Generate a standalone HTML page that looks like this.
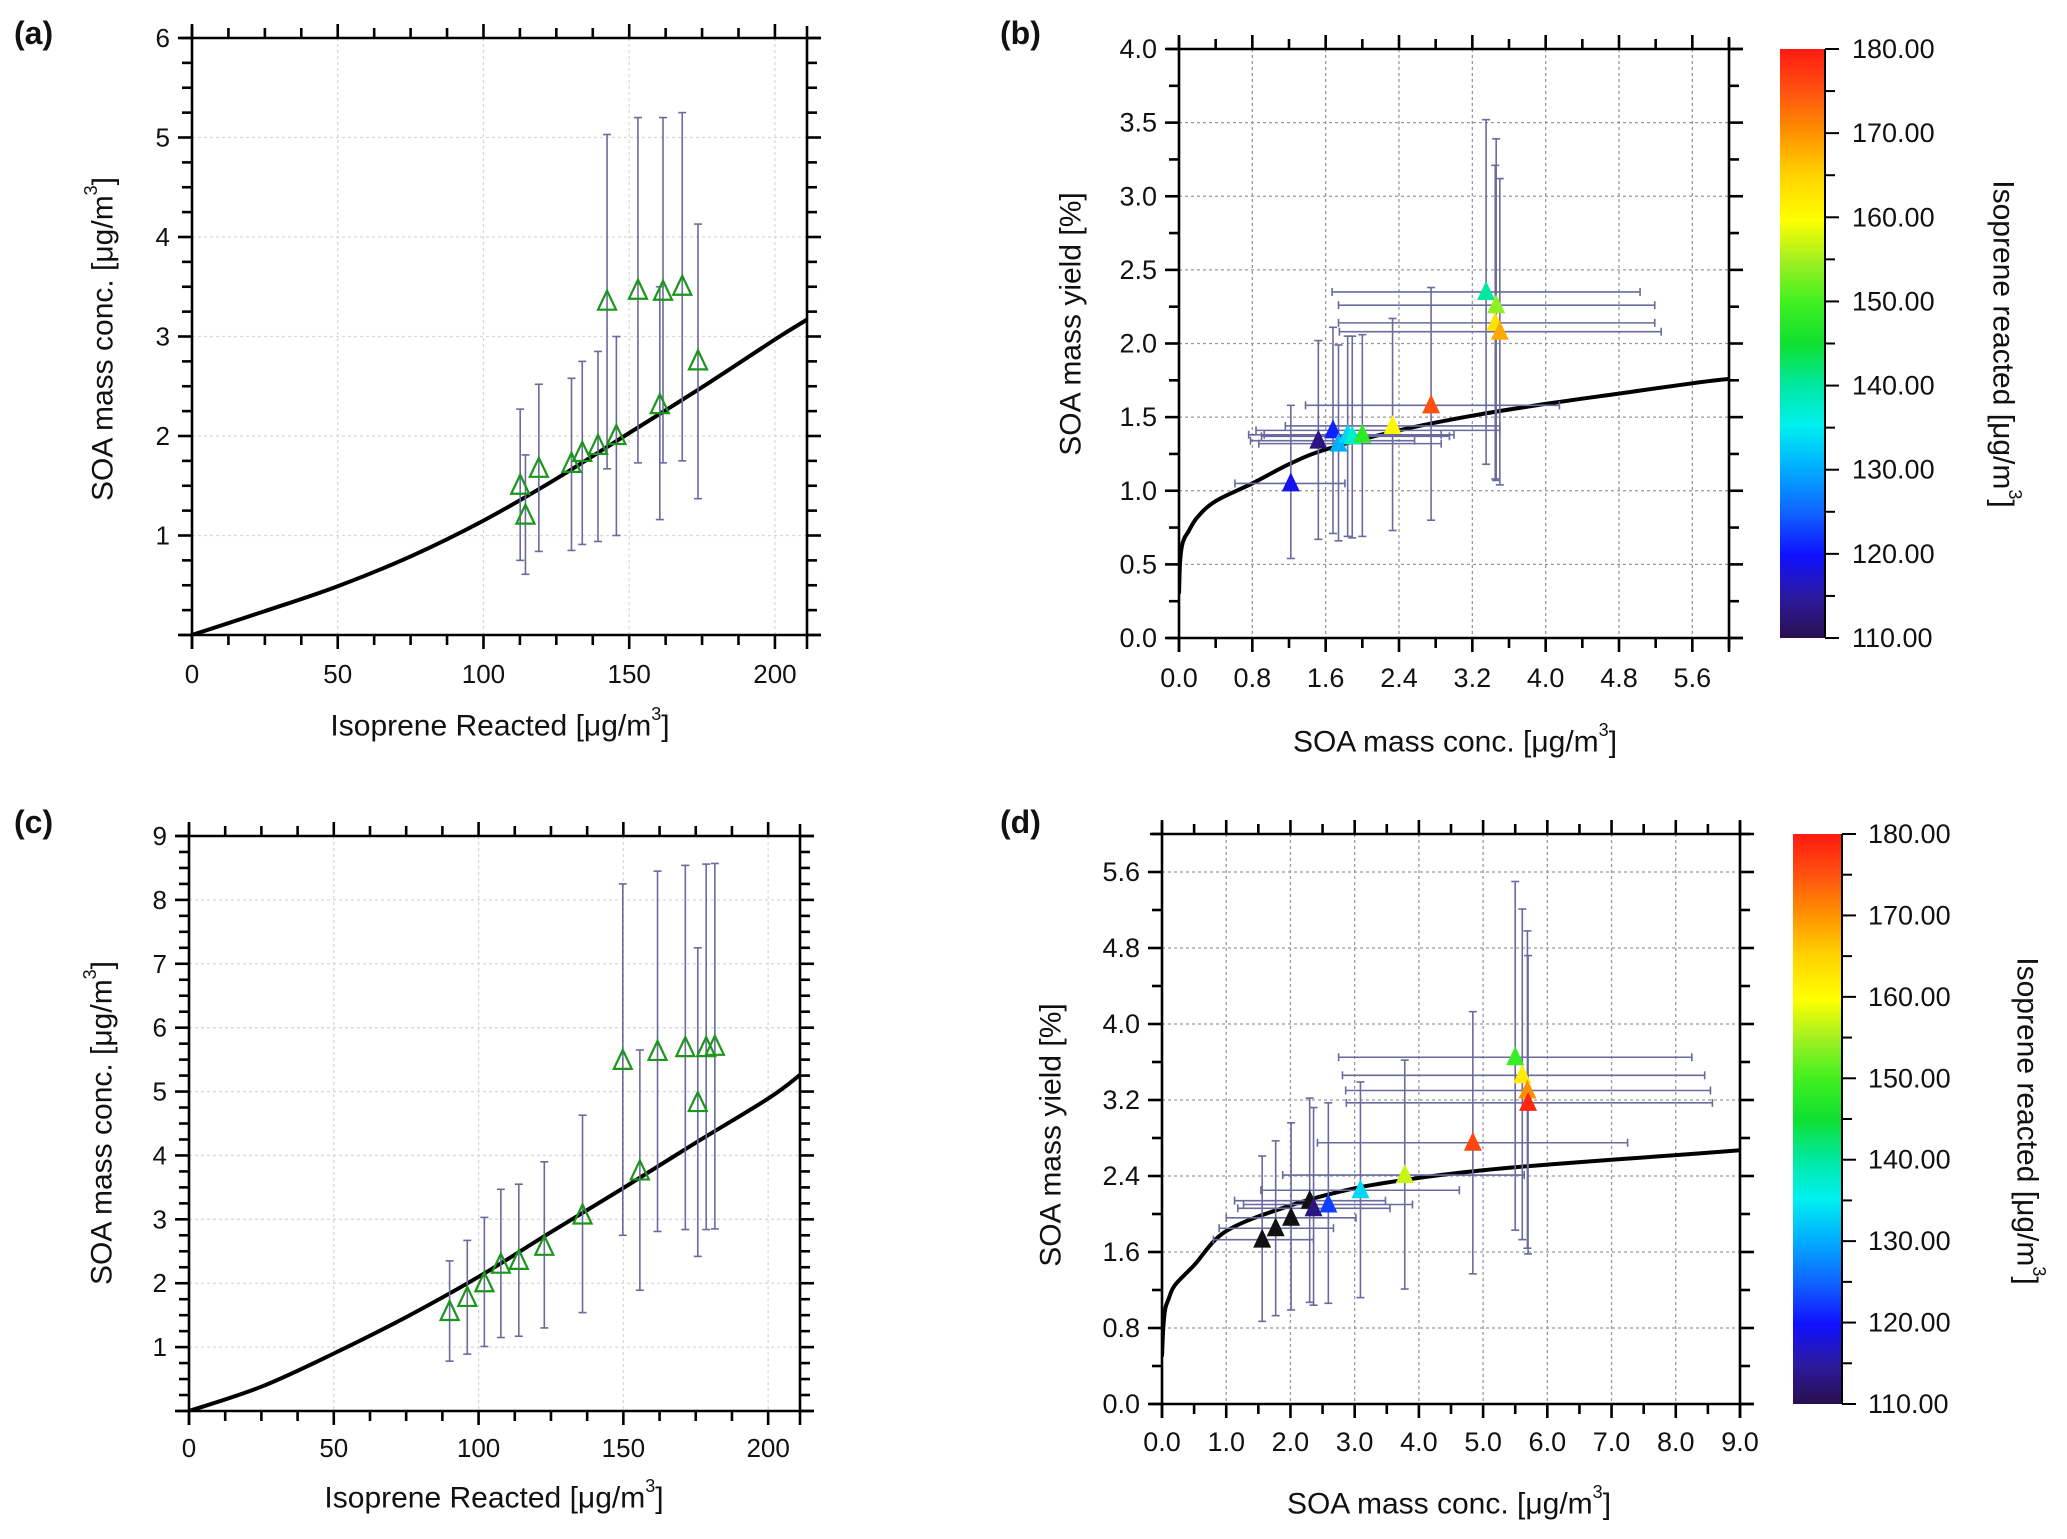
<!DOCTYPE html>
<html><head><meta charset="utf-8"><style>
html,body{margin:0;padding:0;background:#fff;}
svg{display:block;font-family:"Liberation Sans",Arial,sans-serif;}
</style></head><body>
<svg id="fig" width="2067" height="1539" viewBox="0 0 2067 1539" xmlns="http://www.w3.org/2000/svg">
<defs>
<linearGradient id="jet" x1="0" y1="1" x2="0" y2="0">
<stop offset="0" stop-color="#2a1050"/><stop offset="0.07" stop-color="#2b1aa0"/><stop offset="0.14" stop-color="#1010ff"/>
<stop offset="0.21" stop-color="#1060ff"/><stop offset="0.29" stop-color="#00b0ff"/><stop offset="0.36" stop-color="#00f0f0"/>
<stop offset="0.43" stop-color="#00e8a0"/><stop offset="0.5" stop-color="#10e030"/><stop offset="0.57" stop-color="#40f020"/>
<stop offset="0.64" stop-color="#a0f020"/><stop offset="0.71" stop-color="#ffff00"/><stop offset="0.79" stop-color="#ffd000"/>
<stop offset="0.86" stop-color="#ff9000"/><stop offset="0.93" stop-color="#ff5010"/><stop offset="1" stop-color="#ff1a10"/>
</linearGradient>
</defs>
</svg>
<script>
// ---- Panel (a) data ----
const aX=[112.6,114.4,119,130.2,133.9,139.3,145.6,142.4,153,161.6,160.5,168.2,173.6];
const aY=[1.50,1.20,1.67,1.72,1.83,1.90,2.00,3.35,3.46,3.45,2.31,3.50,2.75];
const aYhi=[2.27,1.81,2.52,2.58,2.75,2.85,3.00,5.03,5.20,5.20,3.50,5.25,4.13];
const aYlo=[0.75,0.61,0.84,0.85,0.91,0.94,1.00,1.67,1.73,1.73,1.16,1.75,1.37];
const aCurveX=[0,25,50,75,100,125,150,175,200,211];
const aCurveY=[0,0.24,0.49,0.79,1.15,1.57,2.03,2.49,2.97,3.17];
const aXTicks=[0,50,100,150,200];
const aYTicks=[1,2,3,4,5,6];
// ---- Panel (b) data ----
const bX=[1.22,1.52,1.68,1.74,1.84,1.89,2.00,2.33,2.75,3.35,3.46,3.45,3.50];
const bY=[1.05,1.34,1.41,1.32,1.38,1.37,1.38,1.44,1.58,2.35,2.26,2.14,2.08];
const bC=[119,113,121,130,133,137,148,161,175,140,154,163,168];
const bXlo=[0.61,0.78,0.84,0.87,0.93,0.90,0.76,1.16,1.38,1.67,1.74,1.74,1.75];
const bXhi=[1.81,2.57,3.50,2.86,3.00,2.95,2.86,3.50,4.15,5.03,5.19,5.19,5.26];
const bYlo=[0.54,0.67,0.71,0.66,0.69,0.68,0.69,0.73,0.80,1.18,1.07,1.08,1.04];
const bYhi=[1.58,2.02,2.11,1.99,2.05,2.05,2.06,2.17,2.38,3.52,3.39,3.21,3.12];
const bCurveX=[0,0.01,0.03,0.06,0.1,0.2,0.4,0.8,1.2,1.6,2.4,3.2,4.0,4.8,5.6,6.0];
const bCurveY=[0.3,0.5,0.62,0.68,0.72,0.82,0.93,1.05,1.18,1.28,1.41,1.51,1.59,1.66,1.73,1.76];
const bXTicks=[0,0.8,1.6,2.4,3.2,4.0,4.8,5.6];
const bYTicks=[0,0.5,1,1.5,2,2.5,3,3.5,4];
// ---- Panel (c) data ----
const cX=[90,96.1,102,107.7,113.9,122.7,135.9,149.8,155.7,161.8,171.4,175.7,178.6,181.6];
const cY=[1.55,1.77,2.00,2.29,2.35,2.57,3.06,5.48,3.75,5.62,5.68,4.82,5.68,5.70];
const cYhi=[2.35,2.67,3.03,3.47,3.55,3.90,4.63,8.25,5.65,8.45,8.54,7.25,8.56,8.57];
const cYlo=[0.78,0.89,1.01,1.15,1.17,1.30,1.54,2.75,1.89,2.81,2.84,2.42,2.84,2.85];
const cCurveX=[0,25,50,75,100,125,150,175,200,211];
const cCurveY=[0,0.38,0.90,1.47,2.10,2.80,3.49,4.20,4.89,5.26];
const cXTicks=[0,50,100,150,200];
const cYTicks=[1,2,3,4,5,6,7,8,9];
// ---- Panel (d) data ----
const dX=[1.56,1.77,2.01,2.30,2.36,2.59,3.09,3.78,4.84,5.50,5.61,5.69,5.70];
const dY=[1.73,1.85,1.96,2.14,2.06,2.10,2.25,2.41,2.75,3.65,3.46,3.30,3.17];
const dC=[100,100,100,100,113,123,133,157,176,149,162,170,179];
const dXlo=[0.80,0.89,1.00,1.13,1.18,1.27,1.54,1.88,2.42,2.75,2.81,2.86,2.87];
const dXhi=[2.36,2.67,3.02,3.48,3.55,3.90,4.63,5.64,7.25,8.25,8.45,8.54,8.57];
const dYlo=[0.87,0.93,0.99,1.07,1.04,1.06,1.12,1.21,1.37,1.83,1.73,1.64,1.58];
const dYhi=[2.61,2.77,2.96,3.22,3.12,3.17,3.39,3.62,4.13,5.50,5.21,4.98,4.72];
const dCurveX=[0,0.02,0.05,0.1,0.2,0.5,1,2,3,4,5,6,7,8,9];
const dCurveY=[0.5,0.8,1.0,1.1,1.25,1.46,1.82,2.09,2.27,2.38,2.46,2.52,2.57,2.62,2.67];
const dXTicks=[0,1,2,3,4,5,6,7,8,9];
const dYTicks=[0,0.8,1.6,2.4,3.2,4.0,4.8,5.6];
// ---- colour bar ----
const cbTicks=[110,120,130,140,150,160,170,180];

const NS="http://www.w3.org/2000/svg";
const svg=document.getElementById('fig');
function mk(tag,attrs,parent){const e=document.createElementNS(NS,tag);for(const k in attrs)e.setAttribute(k,attrs[k]);(parent||svg).appendChild(e);return e;}

const jetStops=[[110,[42,16,80]],[115,[43,26,160]],[120,[16,16,255]],[125,[16,96,255]],[130,[0,176,255]],[135,[0,240,240]],[140,[0,232,160]],[145,[16,224,48]],[150,[64,240,32]],[155,[160,240,32]],[160,[255,255,0]],[165,[255,208,0]],[170,[255,144,0]],[175,[255,80,16]],[180,[255,26,16]]];
function jet(v){
  if(v<110) return '#111111';
  for(let i=1;i<jetStops.length;i++){
    if(v<=jetStops[i][0]){const a=jetStops[i-1],b=jetStops[i];const t=(v-a[0])/(b[0]-a[0]);
      const c=a[1].map((x,j)=>Math.round(x+(b[1][j]-x)*t));return 'rgb('+c.join(',')+')';}
  }
  return 'rgb(255,26,16)';
}
function smoothPath(P){
  let d='M'+P[0][0].toFixed(1)+','+P[0][1].toFixed(1);
  for(let i=0;i<P.length-1;i++){
    const p0=P[Math.max(0,i-1)],p1=P[i],p2=P[i+1],p3=P[Math.min(P.length-1,i+2)];
    const c1=[p1[0]+(p2[0]-p0[0])/6,p1[1]+(p2[1]-p0[1])/6];
    const c2=[p2[0]-(p3[0]-p1[0])/6,p2[1]-(p3[1]-p1[1])/6];
    d+='C'+c1[0].toFixed(1)+','+c1[1].toFixed(1)+' '+c2[0].toFixed(1)+','+c2[1].toFixed(1)+' '+p2[0].toFixed(1)+','+p2[1].toFixed(1);
  }
  return d;
}

function panel(p){
  const g=mk('g',{});
  
  
  const sx=v=>p.L+(v-p.x0)/(p.x1-p.x0)*(p.R-p.L);
  const sy=v=>p.B-(v-p.y0)/(p.y1-p.y0)*(p.B-p.T);
  const gg=mk('g',{stroke:p.grid,'stroke-width':1.3,'stroke-dasharray':'3,3'},g);
  
  
  const nx=Math.round((p.x1-p.x0)/p.xMinor);
  for(let i=0;i<=nx+1;i++){const v=p.x0+i*p.xMinor;if(v>p.x1+1e-9)break;
    const maj=Math.abs(v/p.xMajor-Math.round(v/p.xMajor))<1e-6;
    if(maj&&v>p.x0) mk('line',{x1:sx(v),x2:sx(v),y1:p.T,y2:p.B},gg);}
  const ny=Math.round((p.y1-p.y0)/p.yMinor);
  for(let i=0;i<=ny;i++){const v=p.y0+i*p.yMinor;
    const maj=Math.abs(v/p.yMajor-Math.round(v/p.yMajor))<1e-6;
    if(maj&&v>p.y0&&v<p.y1) mk('line',{x1:p.L,x2:p.R,y1:sy(v),y2:sy(v)},gg);}
  const fr=mk('g',{stroke:'#000','stroke-width':2.6,fill:'none'},g);
  
  
  mk('line',{x1:p.L-12,x2:p.R+14,y1:p.T,y2:p.T},fr);
  mk('line',{x1:p.L-12,x2:p.R+14,y1:p.B,y2:p.B},fr);
  mk('line',{x1:p.L,x2:p.L,y1:p.T-12,y2:p.B+14},fr);
  mk('line',{x1:p.R,x2:p.R,y1:p.T-12,y2:p.B+14},fr);
  for(let i=0;i<=nx+1;i++){const v=p.x0+i*p.xMinor;if(v>p.x1+1e-9)break;
    const maj=Math.abs(v/p.xMajor-Math.round(v/p.xMajor))<1e-6;const len=maj?14:10;
    mk('line',{x1:sx(v),x2:sx(v),y1:p.B,y2:p.B+len},fr);
    mk('line',{x1:sx(v),x2:sx(v),y1:p.T,y2:p.T-len},fr);}
  for(let i=0;i<=ny;i++){const v=p.y0+i*p.yMinor;
    const maj=Math.abs(v/p.yMajor-Math.round(v/p.yMajor))<1e-6;const len=maj?14:10;
    mk('line',{x1:p.L,x2:p.L-len,y1:sy(v),y2:sy(v)},fr);
    mk('line',{x1:p.R,x2:p.R+len,y1:sy(v),y2:sy(v)},fr);}
  const tl=mk('g',{'font-size':p.fs,fill:'#111'},g);
  
  
  p.xTicks.forEach(v=>{const t=mk('text',{x:sx(v),y:p.xLabY,'text-anchor':'middle','dominant-baseline':'central'},tl);t.textContent=p.fmt(v);
    
    });
  p.yTicks.forEach(v=>{const t=mk('text',{x:p.L-22,y:sy(v),'text-anchor':'end','dominant-baseline':'central'},tl);t.textContent=p.fmt(v);
    
    });
  const xt=mk('text',{x:p.xTitleX,y:p.xTitleY,'text-anchor':'middle','dominant-baseline':'central','font-size':30,fill:'#111'},g);
  xt.innerHTML=p.xTitle+' [μg/m<tspan dy="-12" font-size="18">3</tspan><tspan dy="12">]</tspan>';
  
  
  const yt=mk('text',{x:0,y:0,transform:'translate('+p.yTitleX+','+p.yTitleY+') rotate(-90)','text-anchor':'middle','dominant-baseline':'central','font-size':30,fill:'#111'},g);
  yt.innerHTML=p.yTitle;
  
  
  const pl=mk('text',{x:p.labX,y:p.labY,'font-size':32,'font-weight':'bold','dominant-baseline':'central',fill:'#111'},g);
  pl.textContent=p.label;
  
  
  const cp=mk('clipPath',{id:'clip-'+p.name},g);
  mk('rect',{x:p.L,y:p.T,width:p.R-p.L,height:p.B-p.T},cp);
  const P=p.cx.map((v,i)=>[sx(v),sy(p.cy[i])]);
  const cu=mk('path',{d:smoothPath(P),stroke:'#000','stroke-width':4,fill:'none','clip-path':'url(#clip-'+p.name+')','stroke-linejoin':'round'},g);
  
  
  const eb=mk('g',{stroke:'#6a6a9c','stroke-width':1.6,fill:'none'},g);
  
  
  p.px.forEach((v,i)=>{
    const X=sx(v);
    mk('line',{x1:X,x2:X,y1:sy(p.yhi[i]),y2:sy(p.ylo[i])},eb);
    mk('line',{x1:X-4,x2:X+4,y1:sy(p.yhi[i]),y2:sy(p.yhi[i])},eb);
    mk('line',{x1:X-4,x2:X+4,y1:sy(p.ylo[i]),y2:sy(p.ylo[i])},eb);
    if(p.xlo){const Y=sy(p.py[i]);
      mk('line',{x1:sx(p.xlo[i]),x2:sx(p.xhi[i]),y1:Y,y2:Y},eb);
      mk('line',{x1:sx(p.xlo[i]),x2:sx(p.xlo[i]),y1:Y-4,y2:Y+4},eb);
      mk('line',{x1:sx(p.xhi[i]),x2:sx(p.xhi[i]),y1:Y-4,y2:Y+4},eb);}
  });
  const mg=mk('g',{},g);
  
  
  p.px.forEach((v,i)=>{
    const X=sx(v),Y=sy(p.py[i]);
    const pts=(X-9)+','+(Y+8)+' '+(X+9)+','+(Y+8)+' '+X+','+(Y-11);
    let m;
    if(p.pc) m=mk('polygon',{points:pts,fill:jet(p.pc[i]),stroke:'none'},mg);
    else m=mk('polygon',{points:pts,fill:'none',stroke:'#1a961a','stroke-width':2.2},mg);
    
    
  });
}

function colorbar(c){
  const g=mk('g',{});
  
  
  mk('rect',{x:c.L,y:c.T,width:c.R-c.L,height:c.B-c.T,fill:'url(#jet)'},g);
  mk('line',{x1:c.R,x2:c.R,y1:c.T,y2:c.B,stroke:'#000','stroke-width':2},g);
  const sy=v=>c.B-(v-110)/70*(c.B-c.T);
  for(let v=110;v<=180;v+=5){const maj=v%10===0;
    mk('line',{x1:c.R,x2:c.R+(maj?14:10),y1:sy(v),y2:sy(v),stroke:'#000','stroke-width':2},g);}
  cbTicks.forEach(v=>{const t=mk('text',{x:c.labX,y:sy(v),'font-size':27,'dominant-baseline':'central',fill:'#111'},g);t.textContent=v.toFixed(2);
    
    });
  const tt=mk('text',{x:0,y:0,transform:'translate('+c.tX+','+c.tY+') rotate(90)','text-anchor':'middle','dominant-baseline':'central','font-size':30,fill:'#111'},g);
  tt.innerHTML='Isoprene reacted [μg/m<tspan dy="-12" font-size="18">3</tspan><tspan dy="12">]</tspan>';
  
  
}

const intFmt=v=>String(v), f1=v=>v.toFixed(1);
panel({name:'a',label:'(a)',labX:14,labY:33,L:192,R:807,T:38,B:635,x0:0,x1:211,y0:0,y1:6,xMajor:50,xMinor:12.5,yMajor:1,yMinor:0.25,
  grid:'#d8d8d8',fs:26,fmt:intFmt,xTicks:aXTicks,yTicks:aYTicks,xLabY:674,xTitle:'Isoprene Reacted',xTitleX:500,xTitleY:726,
  yTitle:'SOA mass conc. [μg/m<tspan dy="-12" font-size="18">3</tspan><tspan dy="12">]</tspan>',yTitleX:103,yTitleY:339,
  cx:aCurveX,cy:aCurveY,px:aX,py:aY,yhi:aYhi,ylo:aYlo});
panel({name:'b',label:'(b)',labX:1000,labY:33,L:1179,R:1729,T:49,B:638,x0:0,x1:6,y0:0,y1:4,xMajor:0.8,xMinor:0.4,yMajor:0.5,yMinor:0.25,
  grid:'#999',fs:27,fmt:f1,xTicks:bXTicks,yTicks:bYTicks,xLabY:678,xTitle:'SOA mass conc.',xTitleX:1455,xTitleY:742,
  yTitle:'SOA mass yield [%]',yTitleX:1071,yTitleY:324,
  cx:bCurveX,cy:bCurveY,px:bX,py:bY,pc:bC,xlo:bXlo,xhi:bXhi,yhi:bYhi,ylo:bYlo});
panel({name:'c',label:'(c)',labX:14,labY:822,L:189,R:800,T:836,B:1411,x0:0,x1:211,y0:0,y1:9,xMajor:50,xMinor:12.5,yMajor:1,yMinor:0.25,
  grid:'#d8d8d8',fs:26,fmt:intFmt,xTicks:cXTicks,yTicks:cYTicks,xLabY:1448,xTitle:'Isoprene Reacted',xTitleX:494,xTitleY:1498,
  yTitle:'SOA mass conc. [μg/m<tspan dy="-12" font-size="18">3</tspan><tspan dy="12">]</tspan>',yTitleX:102,yTitleY:1123,
  cx:cCurveX,cy:cCurveY,px:cX,py:cY,yhi:cYhi,ylo:cYlo});
panel({name:'d',label:'(d)',labX:1000,labY:822,L:1162,R:1740,T:834,B:1404,x0:0,x1:9,y0:0,y1:6,xMajor:1,xMinor:0.5,yMajor:0.8,yMinor:0.4,
  grid:'#999',fs:27,fmt:f1,xTicks:dXTicks,yTicks:dYTicks,xLabY:1442,xTitle:'SOA mass conc.',xTitleX:1449,xTitleY:1504,
  yTitle:'SOA mass yield [%]',yTitleX:1051,yTitleY:1135,
  cx:dCurveX,cy:dCurveY,px:dX,py:dY,pc:dC,xlo:dXlo,xhi:dXhi,yhi:dYhi,ylo:dYlo});
colorbar({name:'colorbar-b',L:1780,R:1825,T:49,B:638,labX:1852,tX:2003,tY:344});
colorbar({name:'colorbar-d',L:1793,R:1842,T:834,B:1404,labX:1868,tX:2027,tY:1121});
</script>
</body></html>
